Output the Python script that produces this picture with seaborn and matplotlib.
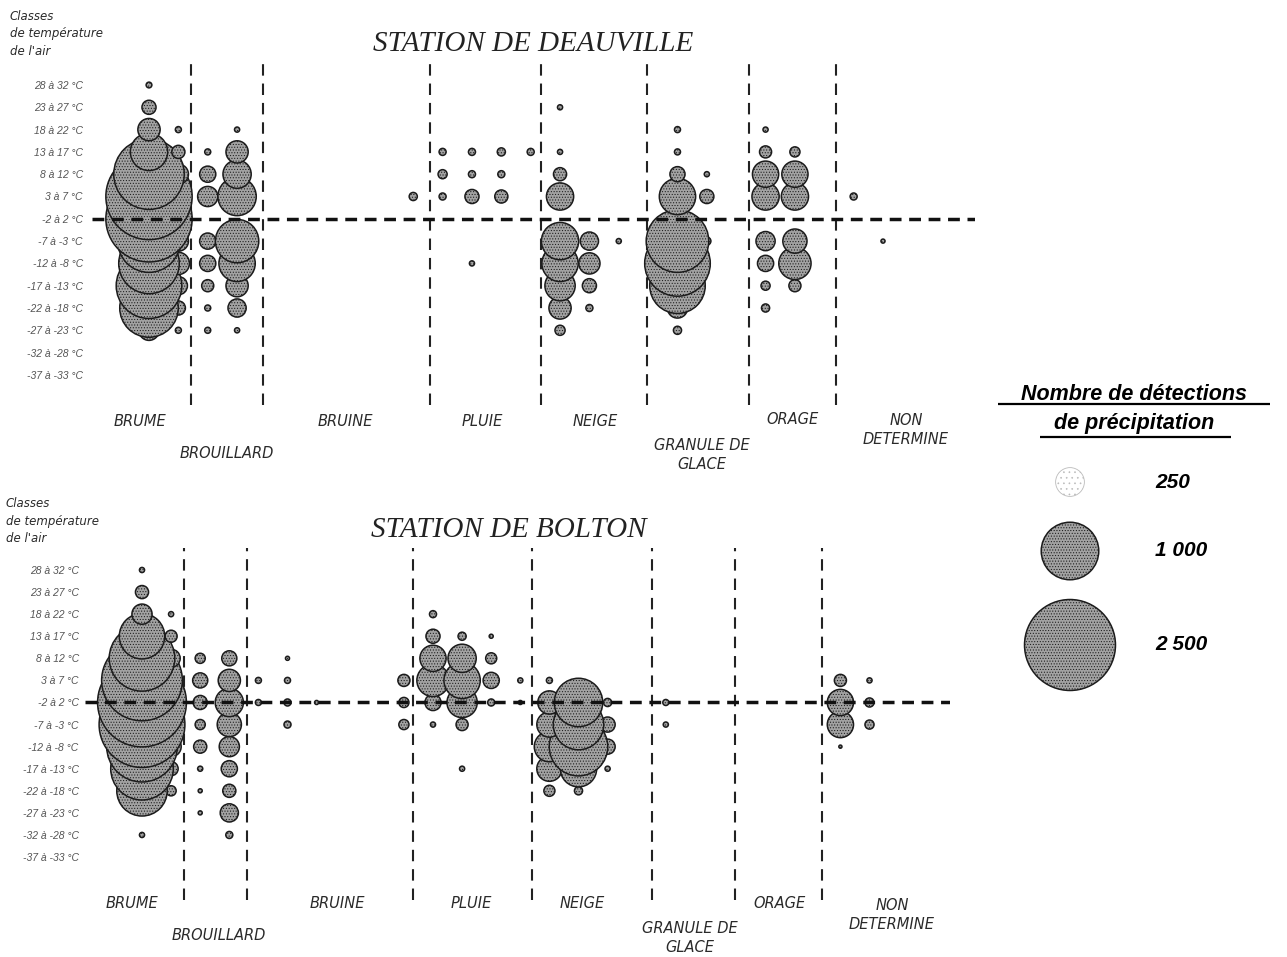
import matplotlib
matplotlib.use("Agg")
import matplotlib.pyplot as plt
import pandas as pd
import seaborn as sns

# ---------- data ----------
temperature_classes_top = ["28 à 32 °C", "23 à 27 °C", "18 à 22 °C", "13 à 17 °C", "8 à 12 °C", "3 à 7 °C", "-2 à 2 °C",
                           "-7 à -3 °C", "-12 à -8 °C", "-17 à -13 °C", "-22 à -18 °C", "-27 à -23 °C", "-32 à -28 °C", "-37 à -33 °C"]
temperature_classes_bottom = ["28 à 32 °C", "23 à 27 °C", "18 à 22 °C", "13 à 17 °C", "8 à 12 °C", "3 à 7 °C", "-2 à 2 °C",
                              "-7 à -3 °C", "-12 à -8 °C", "-17 à -13 °C", "-22 à -18 °C", "-27 à -23 °C", "-32 à -28 °C", "-37 à -33 °C"]

# counts per temperature class (warm to cold), one list per column slot
deauville = {
    0:  [10, 60, 150, 420, 1500, 2250, 2250, 1183, 1108, 1300, 1035, 123, 0, 0],
    1:  [0, 0, 11, 52, 123, 192, 0, 123, 149, 100, 60, 11, 0, 0],
    2:  [0, 0, 0, 11, 79, 123, 0, 79, 79, 44, 11, 11, 0, 0],
    3:  [0, 0, 8, 149, 241, 444, 0, 569, 399, 149, 100, 8, 0, 0],
    9:  [0, 0, 0, 0, 0, 20, 0, 0, 0, 0, 0, 0, 0, 0],
    10: [0, 0, 0, 15, 25, 15, 0, 0, 0, 0, 0, 0, 0, 0],
    11: [0, 0, 0, 15, 15, 60, 0, 0, 8, 0, 0, 0, 0, 0],
    12: [0, 0, 0, 20, 15, 52, 0, 0, 0, 0, 0, 0, 0, 0],
    13: [0, 0, 0, 15, 0, 0, 0, 0, 0, 0, 0, 0, 0, 0],
    14: [0, 8, 0, 8, 52, 224, 0, 420, 399, 277, 149, 31, 0, 0],
    15: [0, 0, 0, 0, 0, 0, 0, 100, 136, 60, 15, 0, 0, 0],
    16: [0, 0, 0, 0, 0, 0, 0, 8, 0, 0, 0, 0, 0, 0],
    18: [0, 0, 11, 11, 69, 399, 0, 1183, 1300, 931, 123, 20, 0, 0],
    19: [0, 0, 0, 0, 8, 60, 0, 20, 11, 0, 0, 0, 0, 0],
    21: [0, 0, 8, 44, 208, 224, 0, 111, 79, 25, 20, 0, 0, 0],
    22: [0, 0, 0, 31, 208, 224, 0, 177, 315, 44, 0, 0, 0, 0],
    24: [0, 0, 0, 0, 0, 15, 0, 0, 0, 0, 0, 0, 0, 0],
    25: [0, 0, 0, 0, 0, 0, 0, 5, 0, 0, 0, 0, 0, 0],
}
bolton = {
    0:  [8, 52, 123, 623, 1300, 1970, 2384, 2224, 1508, 1183, 769, 0, 8, 0],
    1:  [0, 0, 8, 44, 100, 123, 0, 0, 123, 60, 31, 0, 0, 0],
    2:  [0, 0, 0, 0, 31, 69, 60, 31, 52, 8, 5, 5, 0, 0],
    3:  [0, 0, 0, 0, 69, 149, 241, 177, 123, 79, 52, 100, 15, 0],
    4:  [0, 0, 0, 0, 0, 11, 11, 0, 0, 0, 0, 0, 0, 0],
    5:  [0, 0, 0, 0, 5, 11, 15, 15, 0, 0, 0, 0, 0, 0],
    6:  [0, 0, 0, 0, 0, 0, 5, 0, 0, 0, 0, 0, 0, 0],
    9:  [0, 0, 0, 0, 0, 44, 31, 31, 0, 0, 0, 0, 0, 0],
    10: [0, 0, 15, 60, 208, 315, 79, 8, 0, 0, 0, 0, 0, 0],
    11: [0, 0, 0, 20, 241, 399, 277, 44, 0, 8, 0, 0, 0, 0],
    12: [0, 0, 0, 5, 37, 79, 15, 0, 0, 0, 0, 0, 0, 0],
    13: [0, 0, 0, 0, 0, 8, 5, 0, 0, 0, 0, 0, 0, 0],
    14: [0, 0, 0, 0, 0, 11, 163, 192, 277, 192, 37, 0, 0, 0],
    15: [0, 0, 0, 0, 0, 0, 709, 769, 1035, 399, 20, 0, 0, 0],
    16: [0, 0, 0, 0, 0, 0, 20, 69, 69, 8, 0, 0, 0, 0],
    18: [0, 0, 0, 0, 0, 0, 11, 8, 0, 0, 0, 0, 0, 0],
    24: [0, 0, 0, 0, 0, 44, 208, 208, 3, 0, 0, 0, 0, 0],
    25: [0, 0, 0, 0, 0, 8, 25, 25, 0, 0, 0, 0, 0, 0],
}
legend_counts = [250, 1000, 2500]
legend_labels = ["250", "1 000", "2 500"]

# ---------- layout ----------
W, H = 1287, 957
SIZE_MAX = 4290.0  # pt^2 of a 2 500 bubble
FACE, EDGE = "#a2a2a2", "#1c1c1c"

sns.set_theme(style="white")
plt.rcParams["font.family"] = ["Liberation Sans", "DejaVu Sans"]
plt.rcParams["hatch.linewidth"] = 0.45
plt.rcParams["hatch.color"] = "#333333"

fig = plt.figure(figsize=(W / 100, H / 100), dpi=100, facecolor="white")


def px_axes(left, top, right, bottom):
    return fig.add_axes([left / W, 1 - bottom / H, (right - left) / W, (bottom - top) / H])


def panel(counts, classes, box, x0, dx, y0, dy, dividers, pad):
    left, top, right, bottom = box
    ax = px_axes(*box)
    rows = [(slot, r, v) for slot, vals in counts.items() for r, v in enumerate(vals) if v > 0]
    df = pd.DataFrame(rows, columns=["slot", "row", "count"])
    df = df.sort_values(["row", "count"], ascending=[False, True])
    ax.vlines(dividers, (bottom - y0) / dy, (top - y0) / dy, colors="#222222", linewidth=1.5,
              linestyles=(0, (5.5, 3.8)), zorder=1)
    sns.scatterplot(data=df, x="slot", y="row", size="count", sizes=(0, SIZE_MAX), size_norm=(0, 2500),
                    color=FACE, edgecolor=EDGE, linewidth=1.1, hatch="......", alpha=1,
                    legend=False, ax=ax, clip_on=False, zorder=2)
    ax.axhline(6, color="#111111", lw=2.5, linestyle=(0, (3.4, 2.2)), dash_capstyle="butt", zorder=3)
    ax.set_xlim((left - x0) / dx, (right - x0) / dx)
    ax.set_ylim((bottom - y0) / dy, (top - y0) / dy)
    ax.set_xticks([])
    ax.set_yticks(range(len(classes)), classes)
    ax.tick_params(axis="y", length=0, pad=pad, labelsize=7.5, labelcolor="#555555")
    for t in ax.get_yticklabels():
        t.set_fontstyle("italic")
    ax.set_xlabel("")
    ax.set_ylabel("")
    sns.despine(ax=ax, left=True, bottom=True)
    ax.patch.set_visible(False)
    return ax


panel(deauville, temperature_classes_top, (92, 62, 975, 405), 149, 29.36, 85, 22.3,
      [1.43, 3.87, 9.56, 13.35, 16.97, 20.44, 23.4], 6.5)
panel(bolton, temperature_classes_bottom, (85, 548, 950, 900), 142, 29.1, 570, 22.08,
      [1.44, 3.61, 9.31, 13.4, 17.53, 20.38, 23.37], 4.5)

# overlay in pixel units for texts and legend
ov = px_axes(0, 0, W, H)
ov.set_xlim(0, W)
ov.set_ylim(H, 0)
ov.axis("off")
ov.patch.set_visible(False)


def label(x, y, s, size=10.5, color="#2a2a2a", **kw):
    kw.setdefault("ha", "center")
    kw.setdefault("va", "center")
    kw.setdefault("style", "italic")
    ov.text(x, y, s, fontsize=size, color=color, **kw)


for x, y, s in [(140, 421, "BRUME"), (227, 453, "BROUILLARD"), (345, 421, "BRUINE"), (482, 421, "PLUIE"),
                (595, 421, "NEIGE"), (702, 455, "GRANULE DE\nGLACE"), (793, 420, "ORAGE"), (906, 430, "NON\nDETERMINE"),
                (132, 904, "BRUME"), (219, 936, "BROUILLARD"), (337, 904, "BRUINE"), (471, 904, "PLUIE"),
                (582, 904, "NEIGE"), (690, 938, "GRANULE DE\nGLACE"), (780, 904, "ORAGE"), (892, 915, "NON\nDETERMINE")]:
    label(x, y, s, size=10.5, family="DejaVu Sans", linespacing=1.35)

label(10, 34, "Classes\nde température\nde l'air", size=8.5, ha="left", family="DejaVu Sans", linespacing=1.45)
label(6, 521, "Classes\nde température\nde l'air", size=8.5, ha="left", family="DejaVu Sans", linespacing=1.45)

label(533, 44, "STATION DE DEAUVILLE", size=21, family="Liberation Serif", color="#222222")
label(509, 530, "STATION DE BOLTON", size=21, family="Liberation Serif", color="#222222")

label(1134, 394, "Nombre de détections", size=15.5, weight="bold", color="black")
label(1134, 424, "de précipitation", size=15.5, weight="bold", color="black")
ov.hlines([404, 437], [998, 1040], [1270, 1231], colors="black", linewidth=1.6)

legend_df = pd.DataFrame({"x": [1070, 1070, 1070], "y": [482, 551, 645], "count": legend_counts})
sns.scatterplot(data=legend_df.iloc[:1], x="x", y="y", size="count", sizes=(0, SIZE_MAX), size_norm=(0, 2500),
                color="white", edgecolor="#bbbbbb", linewidth=0.6, hatch="...", legend=False, ax=ov, clip_on=False)
sns.scatterplot(data=legend_df.iloc[1:], x="x", y="y", size="count", sizes=(0, SIZE_MAX), size_norm=(0, 2500),
                color=FACE, edgecolor=EDGE, linewidth=1.1, hatch="......", legend=False, ax=ov, clip_on=False)
ov.set_xlabel("")
ov.set_ylabel("")
for y, s in zip(legend_df["y"], legend_labels):
    label(1155, y, s, size=15, weight="bold", ha="left", color="black")

fig.savefig("out.png", dpi=100, facecolor="white")
